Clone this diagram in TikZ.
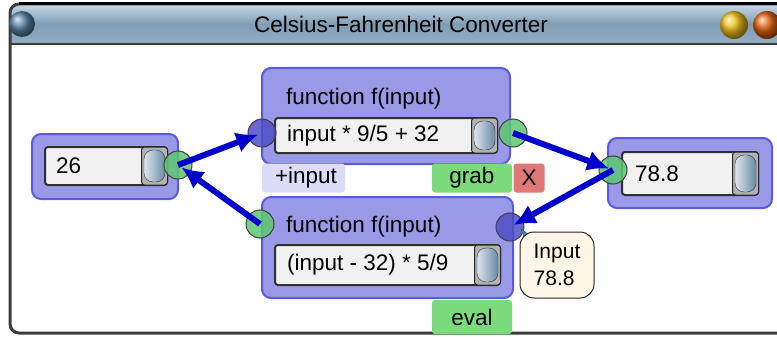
\documentclass[tikz,border=0pt]{standalone}
\usepackage{fontspec}
\setmainfont{Liberation Sans}
\usetikzlibrary{arrows.meta}
\usetikzlibrary{calc,shadings}

\definecolor{blockfill}{HTML}{9999E8}
\definecolor{blockline}{HTML}{5A5ADC}
\definecolor{fieldfill}{HTML}{F1F1F1}
\definecolor{fieldline}{HTML}{303030}
\definecolor{knobleft}{HTML}{DCE5EE}
\definecolor{knobright}{HTML}{6A8BA3}
\definecolor{portgreen}{HTML}{5EC870}
\definecolor{portblue}{HTML}{4E4EC8}
\definecolor{connblue}{HTML}{0000CC}
\definecolor{btngreen}{HTML}{7ADB7A}
\definecolor{btnred}{HTML}{E07878}
\definecolor{inputfill}{HTML}{DCDCF8}
\definecolor{tipfill}{HTML}{FDF6E6}
\definecolor{tipteal}{HTML}{4F8FA0}
\definecolor{titletop}{HTML}{C8D8E4}
\definecolor{titlemid}{HTML}{7F9DB5}
\definecolor{titlebottom}{HTML}{93AEC2}
\definecolor{winline}{HTML}{3C3C3C}
\definecolor{closeball}{HTML}{5B86A6}
\definecolor{minball}{HTML}{F2C21A}
\definecolor{maxball}{HTML}{E0600E}

\begin{document}
\begin{tikzpicture}[x=1pt, y=-1pt]
	\tikzset{every node/.style={
		font=\fontsize{22.5}{26}\selectfont
	}}
	\tikzset{block/.style={
		rectangle, rounded corners=9pt, draw=blockline, fill=blockfill, line width=2pt
	}}
	\tikzset{field/.style={
		rectangle, rounded corners=3pt, draw=fieldline, fill=fieldfill, line width=2pt
	}}
	\tikzset{knobframe/.style={
		rectangle, rounded corners=3pt, draw=black!85, fill=black!30, line width=1pt, minimum width=26pt
	}}
	\tikzset{knob/.style={
		rectangle, rounded corners=9pt, draw=black!80, left color=knobleft, right color=knobright, minimum width=21pt
	}}
	\tikzset{port/.style={
		circle, draw=black!75, line width=1pt, minimum size=28pt, inner sep=0pt, fill opacity=0.85
	}}
	\tikzset{inport/.style={
		port, fill=portblue
	}}
	\tikzset{outport/.style={
		port, fill=portgreen
	}}
	\tikzset{button/.style={
		rectangle, rounded corners=3pt, minimum height=29pt, inner sep=0pt
	}}
	\tikzset{caption/.style={
		anchor=west, inner sep=0pt
	}}
	\tikzset{tooltip/.style={
		rectangle, rounded corners=14pt, draw=black!85, fill=tipfill, line width=1pt,
		minimum width=74pt, minimum height=66pt, align=left, font=\fontsize{21}{27}\selectfont
	}}
	\tikzset{conn/.style={
		-{Latex[length=22pt, width=21pt]}, line width=6pt, draw=connblue, shorten >=4pt
	}}

	\useasboundingbox (0,0) rectangle (777,337);

	% Window
	\fill[white] (0,0) rectangle (777,337);
	\begin{scope}
		\clip[rounded corners=9pt] (10,4) rectangle (800,333);
		\shade[top color=titletop, bottom color=titlebottom, middle color=titlemid] (10,4) rectangle (800,44);
	\end{scope}
	\draw[winline, line width=1.5pt] (10,44) -- (800,44);
	\draw[winline, line width=3pt, rounded corners=9pt] (10,4) rectangle (800,333);
	\draw[black, line width=3pt] (19,4) -- (800,4);

	% Title bar
	\node (title) at (401,24) {Celsius-Fahrenheit Converter};
	\shade[ball color=closeball] (22,24) circle (13pt);
	\shade[ball color=minball] (734,25) circle (14pt);
	\shade[ball color=maxball] (767,25) circle (14pt);

	% Celsius
	\node (celsius) [block, minimum width=146pt, minimum height=65pt] at (105,166.5) {};
	\node (celsius_field) [field, minimum width=122pt, minimum height=38pt] at (106,166) {}
		node [caption] at ([xshift=12pt]celsius_field.west) {26};
	\node (celsius_knob) [knobframe, minimum height=38pt, anchor=east] at (celsius_field.east) {}
		node [knob, minimum height=32pt] at (celsius_knob.center) {};
	\node (celsius_out) [outport] at (178,165) {};

	% Celsius -> Fahrenheit
	\node (tofahr) [block, minimum width=248pt, minimum height=96pt] at (386,116) {}
		node [caption] at ([shift={(25,32)}]tofahr.north west) {function f(input)};
	\node (tofahr_field) [field, minimum width=222pt, minimum height=35pt] at (386,135.5) {}
		node [caption] at ([xshift=13pt]tofahr_field.west) {input * 9/5 + 32};
	\node (tofahr_knob) [knobframe, minimum height=35pt, anchor=east] at (tofahr_field.east) {}
		node [knob, minimum height=29pt] at (tofahr_knob.center) {};
	\node (tofahr_in) [inport] at (262,133) {};
	\node (tofahr_out) [outport] at (513,133) {};

	% Buttons
	\node (addinput) [button, fill=inputfill, minimum width=83pt] at (303.5,178) {}
		node [caption] at ([xshift=13pt]addinput.west) {+input};
	\node (grab) [button, fill=btngreen, minimum width=80pt] at (472,178) {grab};
	\node (remove) [button, fill=btnred, minimum width=31pt] at (529,178) {X};

	% Fahrenheit -> Celsius
	\node (tocels) [block, minimum width=251pt, minimum height=101pt] at (387.5,247.5) {}
		node [caption] at ([shift={(25,31)}]tocels.north west) {function f(input)};
	\node (tocels_field) [field, minimum width=225pt, minimum height=40pt] at (387.5,265) {}
		node [caption] at ([xshift=13pt]tocels_field.west) {(input - 32) * 5/9};
	\node (tocels_knob) [knobframe, minimum height=40pt, anchor=east] at (tocels_field.east) {}
		node [knob, minimum height=34pt] at (tocels_knob.center) {};
	\node (tocels_out) [outport] at (260,224) {};
	\node (tocels_in) [inport] at (510,227) {};
	\node (eval) [button, fill=btngreen, minimum width=80pt, minimum height=34pt] at (472,317) {eval};

	% Fahrenheit
	\node (fahr) [block, minimum width=164pt, minimum height=70pt] at (690,173) {};
	\node (fahr_field) [field, minimum width=136pt, minimum height=43pt] at (690,173.5) {}
		node [caption] at ([xshift=14pt]fahr_field.west) {78.8};
	\node (fahr_knob) [knobframe, minimum height=43pt, anchor=east] at (fahr_field.east) {}
		node [knob, minimum height=37pt] at (fahr_knob.center) {};
	\node (fahr_in) [outport] at (613,170) {};

	% Connections
	\draw[conn] (celsius_out.center) -- (tofahr_in.center);
	\draw[conn] (tocels_out.center) -- (celsius_out.center);
	\draw[conn] (tofahr_out.center) -- (fahr_in.center);
	\draw[conn] (fahr_in.center) -- (tocels_in.center);

	% Tooltip
	\fill[tipteal, draw=black!70, line width=0.5pt] (521,229) -- (536,240) -- (528,246) -- cycle;
	\node (tip) [tooltip] at (557,265) {Input\\78.8};
\end{tikzpicture}
\end{document}
